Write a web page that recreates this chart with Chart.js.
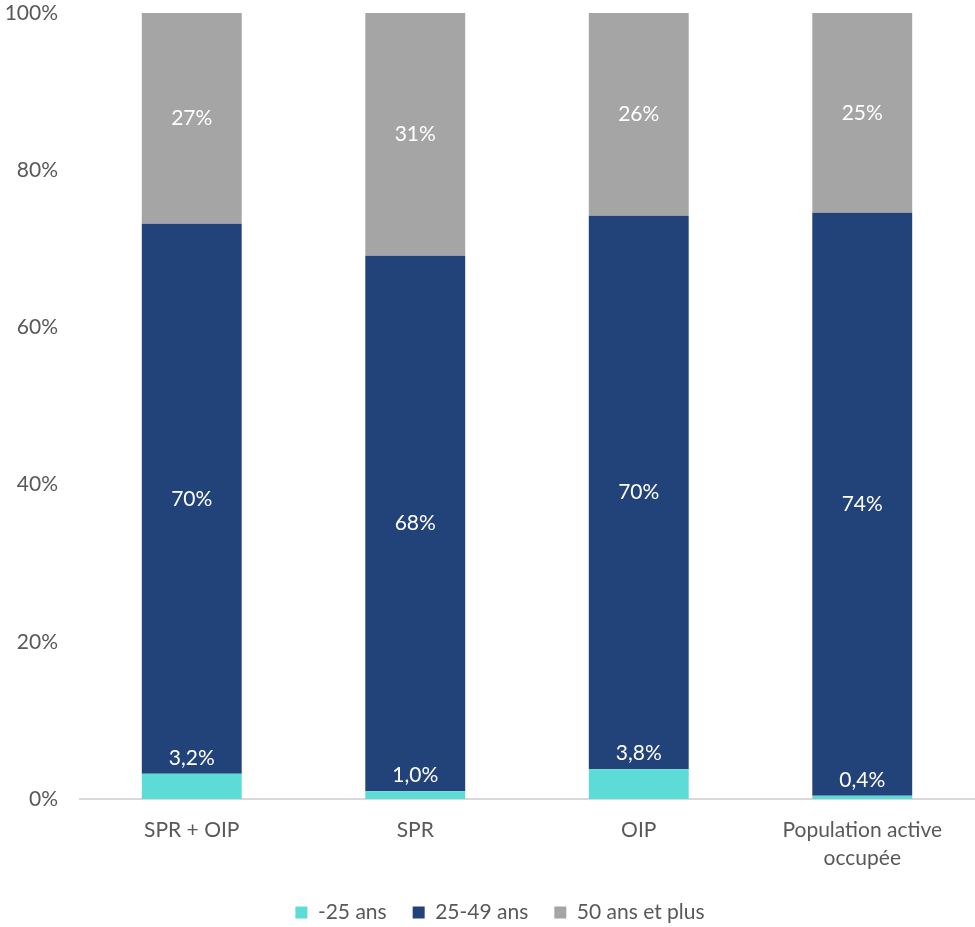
<!DOCTYPE html>
<html>
<head>
<meta charset="utf-8">
<script src="https://cdn.jsdelivr.net/npm/chart.js@4.4.1/dist/chart.umd.min.js"></script>
<style>
  html, body { margin: 0; padding: 0; background: #fff; }
  #wrap { width: 975px; height: 927px; }
</style>
</head>
<body>
<div id="wrap"><canvas id="chart"></canvas></div>
<script>
// categories et séries
var categories = ['SPR + OIP', 'SPR', 'OIP', ['Population active', 'occupée']];
var seriesNames = ['-25 ans', '25-49 ans', '50 ans et plus'];
var moins25 = [3.2, 1.0, 3.8, 0.4];
var de25a49 = [70.0, 68.1, 70.4, 74.2];
var plus50 = [26.8, 30.9, 25.8, 25.4];
var yTicks = [0, 20, 40, 60, 80, 100];

var couleurs = ['#5DDCD7', '#22427A', '#A5A5A5'];
var police = 'Lato, "Open Sans", sans-serif';

// étiquettes de données dessinées à la main
var etiquettes = {
    id: 'etiquettes',
    afterDatasetsDraw: function (chart) {
        var ctx = chart.ctx;
        ctx.save();
        ctx.fillStyle = '#ffffff';
        ctx.font = '21px ' + police;
        ctx.textAlign = 'center';
        ctx.textBaseline = 'middle';
        chart.data.datasets.forEach(function (ds, i) {
            var meta = chart.getDatasetMeta(i);
            meta.data.forEach(function (bar, j) {
                var v = ds.data[j];
                var txt, y;
                if (i === 0) {
                    txt = v.toFixed(1).replace('.', ',') + '%';
                    y = bar.y - 16;
                } else {
                    txt = Math.round(v) + '%';
                    y = (bar.y + bar.base) / 2;
                }
                ctx.fillText(txt, bar.x, y);
            });
        });
        ctx.restore();
    }
};

// légende centrée sur la zone du graphique plutôt que sur le canvas
var decalageLegende = {
    id: 'decalageLegende',
    afterLayout: function (chart) {
        if (chart.legend) chart.legend.left += 26;
    }
};

var ctx = document.getElementById('chart');
var chart = new Chart(ctx, {
    type: 'bar',
    data: {
        labels: categories,
        datasets: [
            { label: seriesNames[0], data: moins25, backgroundColor: couleurs[0] },
            { label: seriesNames[1], data: de25a49, backgroundColor: couleurs[1] },
            { label: seriesNames[2], data: plus50, backgroundColor: couleurs[2] }
        ]
    },
    options: {
        responsive: true,
        maintainAspectRatio: false,
        animation: false,
        barPercentage: 0.447,
        categoryPercentage: 1,
        layout: { padding: { top: 0, right: 1, left: 0, bottom: -6 } },
        plugins: {
            tooltip: { enabled: false },
            legend: {
                position: 'bottom',
                labels: {
                    boxWidth: 12,
                    boxHeight: 12,
                    padding: 26,
                    color: '#595959',
                    font: { family: police, size: 21 }
                }
            }
        },
        scales: {
            x: {
                stacked: true,
                grid: { display: false, drawTicks: false },
                border: { color: '#D9D9D9', width: 2 },
                ticks: {
                    color: '#595959',
                    padding: 18,
                    maxRotation: 0,
                    font: { family: police, size: 21, lineHeight: 1.3 }
                },
                afterFit: function (scale) { scale.height = 77; }
            },
            y: {
                stacked: true,
                min: 0,
                max: 100,
                grid: { display: false, drawTicks: false },
                border: { display: false },
                afterBuildTicks: function (scale) {
                    scale.ticks = yTicks.map(function (v) { return { value: v }; });
                },
                ticks: {
                    color: '#595959',
                    padding: 22,
                    font: { family: police, size: 21 },
                    callback: function (v) { return v + '%'; }
                },
                afterFit: function (scale) {
                    scale.width = 80;
                    scale.paddingTop = 13;
                }
            }
        }
    },
    plugins: [etiquettes, decalageLegende]
});
</script>
</body>
</html>
